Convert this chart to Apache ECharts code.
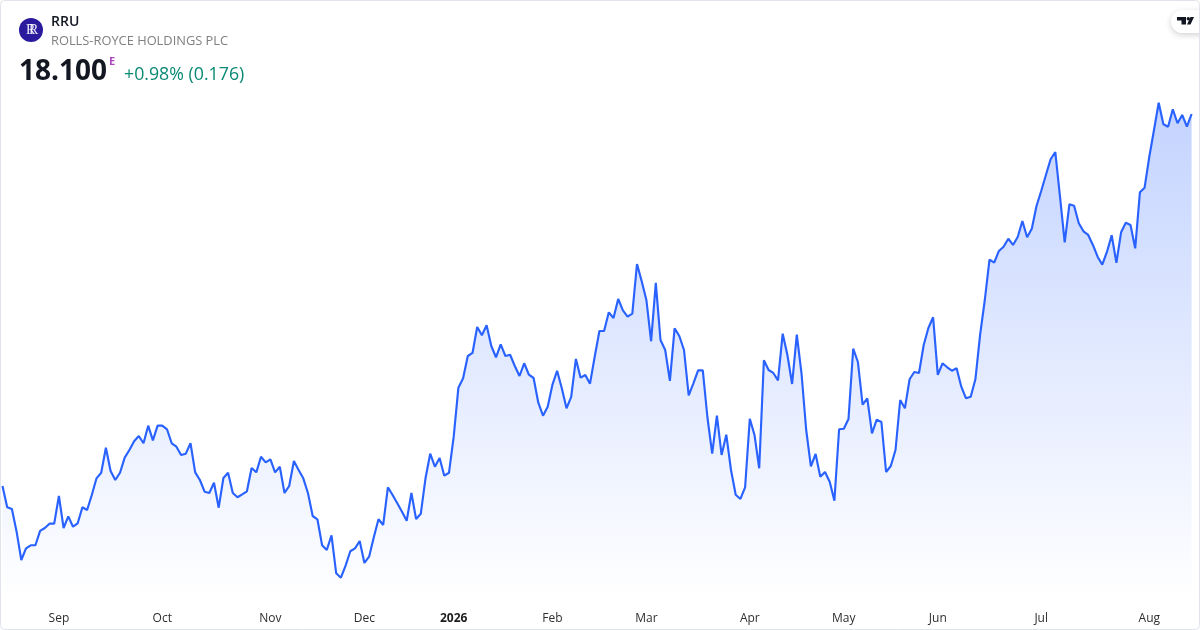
<!DOCTYPE html>
<html>
<head>
<meta charset="utf-8">
<style>html,body{margin:0;padding:0;background:#fff}#chart{width:1200px;height:630px}</style>
<script src="https://cdn.jsdelivr.net/npm/echarts@6/dist/echarts.min.js"></script>
</head>
<body>
<div id="chart"></div>
<script>
const monthLabels = ["", "Sep", "Oct", "Nov", "Dec", "2026", "Feb", "Mar", "Apr", "May", "Jun", "Jul", "Aug"];
const sessionsPerMonth = [12, 22, 23, 20, 19, 21, 20, 22, 20, 20, 22, 23, 10];
const prices = [
13.450,13.184,13.162,12.879,12.525,12.671,12.709,12.709,12.888,12.925,
12.979,12.979,13.325,12.925,13.071,12.941,12.984,13.184,13.150,13.338,
13.546,13.616,13.929,13.638,13.525,13.616,13.804,13.900,14.009,14.075,
13.984,14.204,14.021,14.204,14.204,14.159,13.984,13.941,13.838,13.854,
13.984,13.621,13.525,13.379,13.363,13.491,13.179,13.550,13.616,13.363,
13.309,13.346,13.384,13.675,13.621,13.816,13.746,13.784,13.621,13.691,
13.363,13.450,13.763,13.650,13.546,13.359,13.075,13.034,12.709,12.650,
12.834,12.359,12.304,12.454,12.634,12.671,12.763,12.488,12.566,12.809,
13.034,12.963,13.434,13.338,13.234,13.129,13.016,13.363,13.038,13.104,
13.546,13.854,13.691,13.800,13.579,13.616,14.066,14.679,14.796,15.075,
15.113,15.438,15.334,15.459,15.200,15.059,15.221,15.075,15.091,14.950,
14.825,14.984,14.841,14.800,14.491,14.329,14.441,14.713,14.891,14.671,
14.421,14.563,15.038,14.804,14.838,14.729,15.066,15.388,15.388,15.621,
15.550,15.788,15.646,15.566,15.604,16.225,16.009,15.775,15.259,15.988,
15.275,15.150,14.763,15.421,15.325,15.150,14.584,14.734,14.896,14.896,
14.300,13.854,14.329,13.838,14.091,13.650,13.341,13.288,13.434,14.291,
14.088,13.671,15.021,14.900,14.863,14.771,15.354,15.088,14.725,15.341,
14.859,14.150,13.696,13.850,13.566,13.625,13.504,13.266,14.159,14.166,
14.288,15.166,15.000,14.466,14.546,14.109,14.279,14.250,13.625,13.700,
13.900,14.525,14.421,14.784,14.875,14.863,15.213,15.425,15.559,14.838,
14.984,14.934,14.891,14.921,14.691,14.546,14.566,14.784,15.338,15.775,
16.279,16.241,16.388,16.441,16.541,16.463,16.563,16.763,16.559,16.666,
16.950,17.138,17.338,17.534,17.625,17.066,16.496,16.971,16.954,16.734,
16.634,16.588,16.463,16.316,16.216,16.379,16.584,16.241,16.621,16.741,
16.713,16.421,17.121,17.179,17.566,17.900,18.241,17.971,17.941,18.159,
17.984,18.088,17.941,18.100
];
const symbol = "RRU";
const company = "ROLLS-ROYCE HOLDINGS PLC";
const lastPrice = "18.100";
const changeText = "+0.98% (0.176)";

const categories = [];
monthLabels.forEach((m, k) => {
  for (let s = 0; s < sessionsPerMonth[k]; s++) categories.push(s === 0 ? m : "");
});

const font = '"Open Sans", "Noto Sans", sans-serif';
const chart = echarts.init(document.getElementById('chart'), null, {renderer: 'canvas'});
chart.setOption({
  animation: false,
  backgroundColor: '#ffffff',
  grid: {left: 2.5, right: 8.4, top: 0, bottom: 30, containLabel: false},
  xAxis: {
    type: 'category', boundaryGap: false, data: categories,
    axisLine: {show: false}, axisTick: {show: false}, splitLine: {show: false},
    axisLabel: {
      interval: (i, v) => v !== "",
      hideOverlap: false, margin: 13,
      color: '#2e2e2e', fontFamily: font, fontSize: 12,
      formatter: v => v === "2026" ? '{b|2026}' : v,
      rich: {b: {fontWeight: 'bold', fontFamily: font, fontSize: 12, color: '#1c1c1c'}}
    }
  },
  yAxis: {type: 'value', min: 12.025, max: 19.525, show: false, splitLine: {show: false}},
  series: [{
    type: 'line', data: prices, showSymbol: false, smooth: false,
    lineStyle: {color: '#2962ff', width: 2.15},
    itemStyle: {color: '#2962ff'},
    areaStyle: {
      opacity: 1,
      color: new echarts.graphic.LinearGradient(0, 0, 0, 1, [
        {offset: 0, color: 'rgba(41,98,255,0.28)'},
        {offset: 1, color: 'rgba(41,98,255,0)'}
      ])
    }
  }],
  graphic: [
    {type: 'circle', shape: {cx: 31, cy: 30, r: 12}, style: {fill: '#2a1a9e'}, z: 10},
    {type: 'text', x: 26, y: 23, z: 11, style: {text: 'R', fill: '#fff', font: '14px "Liberation Serif"', opacity: 0.9}},
    {type: 'text', x: 29, y: 23, z: 11, style: {text: 'R', fill: '#fff', font: '14px "Liberation Serif"', opacity: 0.9}},
    {type: 'text', x: 51, y: 22, z: 11, style: {text: symbol, fill: '#131722', font: `600 14px ${font}`, textVerticalAlign: 'middle'}},
    {type: 'text', x: 51, y: 41.5, z: 11, style: {text: company, fill: '#808080', font: `12.85px ${font}`, textVerticalAlign: 'middle'}},
    {type: 'text', x: 19, y: 72.5, z: 11, style: {text: lastPrice, fill: '#131722', font: `bold 28px ${font}`, textVerticalAlign: 'middle'}},
    {type: 'text', x: 109, y: 62, z: 11, style: {text: 'E', fill: '#ab47bc', font: `bold 11px ${font}`, textVerticalAlign: 'middle'}},
    {type: 'text', x: 124, y: 75, z: 11, style: {text: changeText, fill: '#0a8a74', font: `17.75px ${font}`, textVerticalAlign: 'middle'}},
    {type: 'rect', shape: {x: 1171, y: 10, width: 50, height: 23, r: 11.5}, z: 12,
      style: {fill: '#fff', shadowBlur: 6, shadowColor: 'rgba(0,0,0,0.18)', shadowOffsetY: 2}},
    {type: 'polygon', z: 13, shape: {points: [[1177,17],[1186,17],[1186,24.5],[1181.5,24.5],[1181.5,20.5],[1177,20.5]]}, style: {fill: '#131722'}},
    {type: 'circle', z: 13, shape: {cx: 1188.3, cy: 18.7, r: 1.7}, style: {fill: '#131722'}},
    {type: 'polygon', z: 13, shape: {points: [[1190.5,17],[1194,17],[1190.5,24.5],[1187,24.5]]}, style: {fill: '#131722'}},
    {type: 'rect', z: 14, silent: true, shape: {x: 0.5, y: 0.5, width: 1199, height: 629, r: 4}, style: {fill: 'none', stroke: '#e0e3eb', lineWidth: 1}}
  ]
});
</script>
</body>
</html>
